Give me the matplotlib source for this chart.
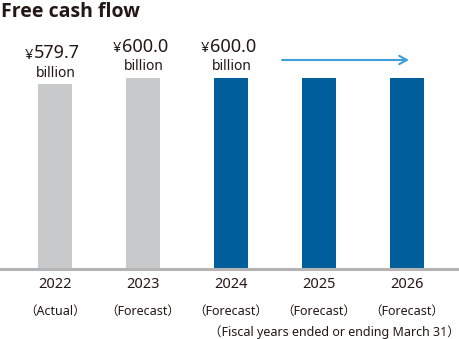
import matplotlib.pyplot as plt
from matplotlib.transforms import offset_copy

plt.rcParams['font.family'] = ['Noto Sans', 'Noto Sans CJK JP', 'DejaVu Sans']

years = ['2022', '2023', '2024', '2025', '2026']
kinds = ['（Actual）', '（Forecast）', '（Forecast）', '（Forecast）', '（Forecast）']
values = [579.7, 600.0, 600.0, 600.0, 600.0]
labels = ['579.7', '600.0', '600.0', None, None]
colors = ['#c8c9cb', '#c8c9cb', '#005e9c', '#005e9c', '#005e9c']

fig = plt.figure(figsize=(4.6, 3.39), dpi=100)
ax = fig.add_axes([0, 70 / 339, 1, 269 / 339])
ax.set_xlim(-55 / 88, 405 / 88)
ax.set_ylim(0, 600 * 269 / 191)

x = list(range(len(years)))
ax.bar(x, values, width=34 / 88, color=colors, zorder=2)
ax.axhline(0, color='#b3b3b3', lw=2.2, zorder=3, clip_on=False)

for s in ax.spines.values():
    s.set_visible(False)
ax.set_yticks([])
ax.set_xticks([])

txt = '#231815'
for i, v in enumerate(values):
    if labels[i] is None:
        continue
    ax.annotate('¥', (i, v), xytext=(-22, 29), textcoords='offset pixels',
                ha='right', va='center', fontsize=10.5, color=txt)
    ax.annotate(labels[i], (i, v), xytext=(-21, 31), textcoords='offset pixels',
                ha='left', va='center', fontsize=13, color=txt)
    ax.annotate('billion', (i, v), xytext=(1, 11), textcoords='offset pixels',
                ha='center', va='center', fontsize=10, color=txt)

for i in x:
    ax.annotate(years[i], (i, 0), xytext=(0, -16), textcoords='offset pixels',
                ha='center', va='center', fontsize=10.5, color=txt,
                annotation_clip=False)
    ax.annotate(kinds[i], (i, 0), xytext=(0, -42), textcoords='offset pixels',
                ha='center', va='center', fontsize=9, color=txt,
                annotation_clip=False)

# arrow: forecast held from 2024 onward
above = offset_copy(ax.transData, fig=fig, x=0, y=18 / 100, units='inches')
ax.annotate('', xy=(x[4] + 2 / 88, values[4]), xycoords=above,
            xytext=(x[2] + 51 / 88, values[2]), textcoords=above,
            arrowprops=dict(arrowstyle='->,head_length=0.55,head_width=0.3',
                            color='#3d9fdc', lw=1.5,
                            shrinkA=0, shrinkB=0),
            annotation_clip=False)

fig.text(0.002, 0.995, 'Free cash flow', ha='left', va='top',
         fontsize=14, fontweight='bold', color=txt,
         family=['Open Sans', 'DejaVu Sans'])
fig.text(1.0, 7 / 339, '（Fiscal years ended or ending March 31）', ha='right',
         va='center', fontsize=9, color=txt)

fig.savefig('out.png', dpi=100)
